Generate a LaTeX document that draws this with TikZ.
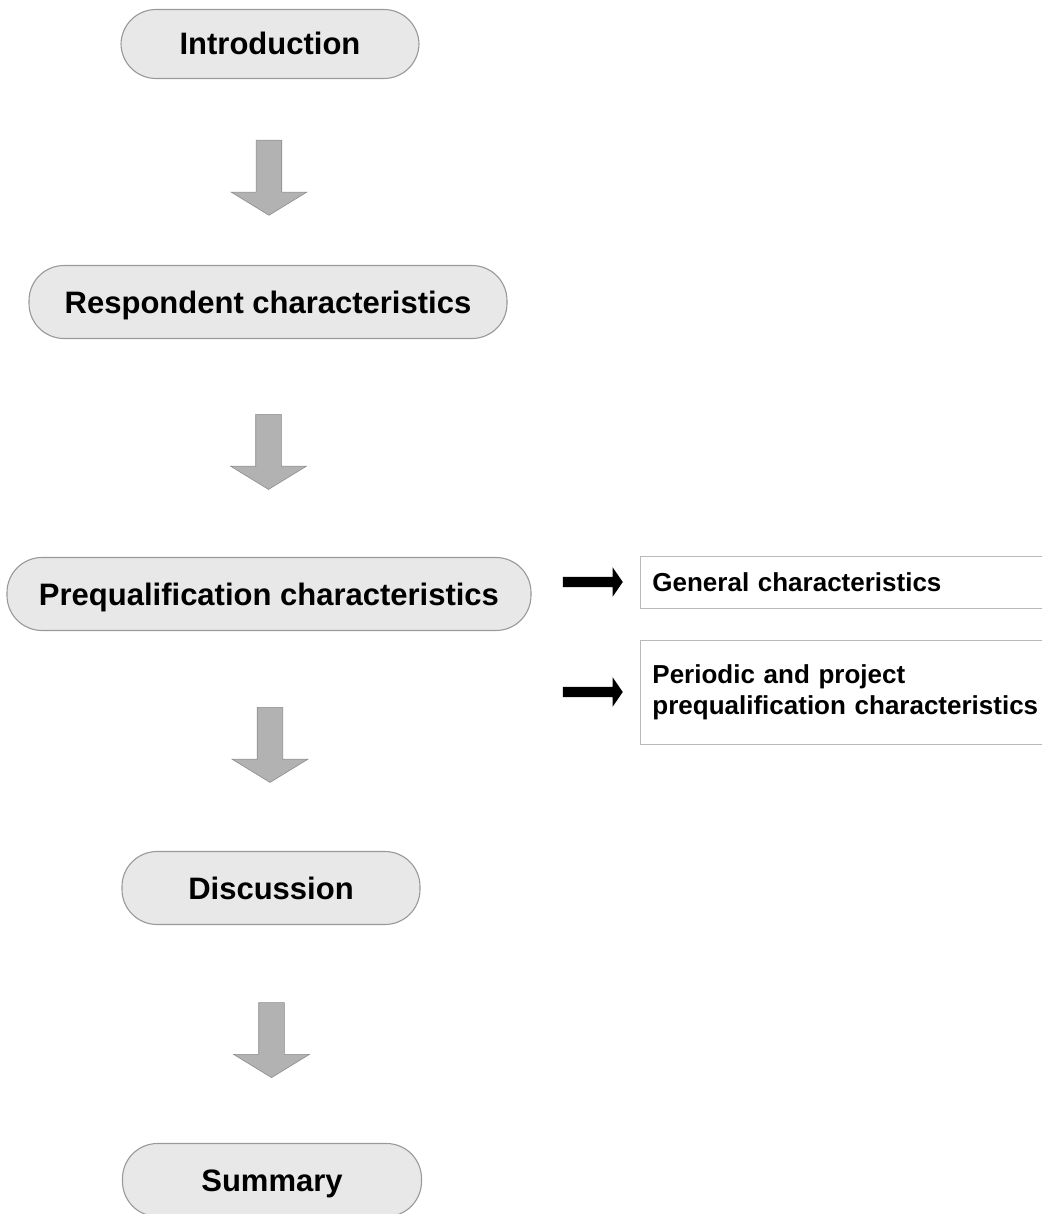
\documentclass[tikz,border=0pt]{standalone}
\usepackage{fontspec}
\setmainfont{Liberation Sans}
\usetikzlibrary{shapes.arrows,positioning,calc}

\begin{document}
\begin{tikzpicture}[
    x=1pt, y=-1pt,
    pill/.style={
        draw=gray!80,
        line width=1.1pt,
        rounded corners=35pt,
        fill=gray!18,
        minimum height=73pt,
        text height=22pt,
        text depth=0pt,
        font=\fontsize{31}{37}\selectfont\bfseries
    },
    textbox/.style={
        draw=gray!55,
        line width=0.8pt,
        fill=white,
        text width=400pt,
        align=left,
        inner xsep=12pt,
        anchor=west,
        font=\fontsize{26}{31}\selectfont\bfseries
    },
    downarrow/.style={
        single arrow,
        shape border rotate=270,
        draw=black!45,
        fill=black!30,
        line width=0.6pt,
        inner sep=12.5pt,
        minimum height=75pt,
        minimum width=75pt,
        single arrow head extend=25pt,
        single arrow tip angle=117
    },
    sidearrow/.style={
        single arrow,
        fill=black,
        inner sep=5pt,
        minimum height=60pt,
        minimum width=29pt,
        single arrow head extend=9.5pt,
        single arrow tip angle=111
    }
]
\useasboundingbox (0,0) rectangle (1042,1214);
\clip (0,0) rectangle (1042,1214);

\node[pill, minimum width=298pt, minimum height=69pt] (intro) at (270,44) {Introduction};
\node[pill, minimum width=478pt] (resp) at (268,302) {Respondent characteristics};
\node[pill, minimum width=524pt] (preq) at (269,594) {Prequalification characteristics};
\node[pill, minimum width=298pt] (disc) at (271,888) {Discussion};
\node[pill, minimum width=299pt] (summ) at (272,1180) {Summary};

% block arrows between the steps
\node[downarrow] (a1) at ($(intro.south)!0.51!(resp.north)$) {};
\node[downarrow] (a2) at ($(resp.south)!0.5!(preq.north)$) {};
\node[downarrow] (a3) at ($(preq.south)!0.5!(disc.north)$) {};
\node[downarrow] (a4) at ($(disc.south)!0.51!(summ.north)$) {};

% side boxes
\node[textbox, minimum height=52pt] (gen) at (640,582) {General characteristics};
\node[textbox, minimum height=104pt] (per) at (640,692)
{Periodic and project\\prequalification characteristics};

\node[sidearrow, left=17pt of gen] (ga) {};
\node[sidearrow, left=17pt of per] (pa) {};

\end{tikzpicture}
\end{document}
